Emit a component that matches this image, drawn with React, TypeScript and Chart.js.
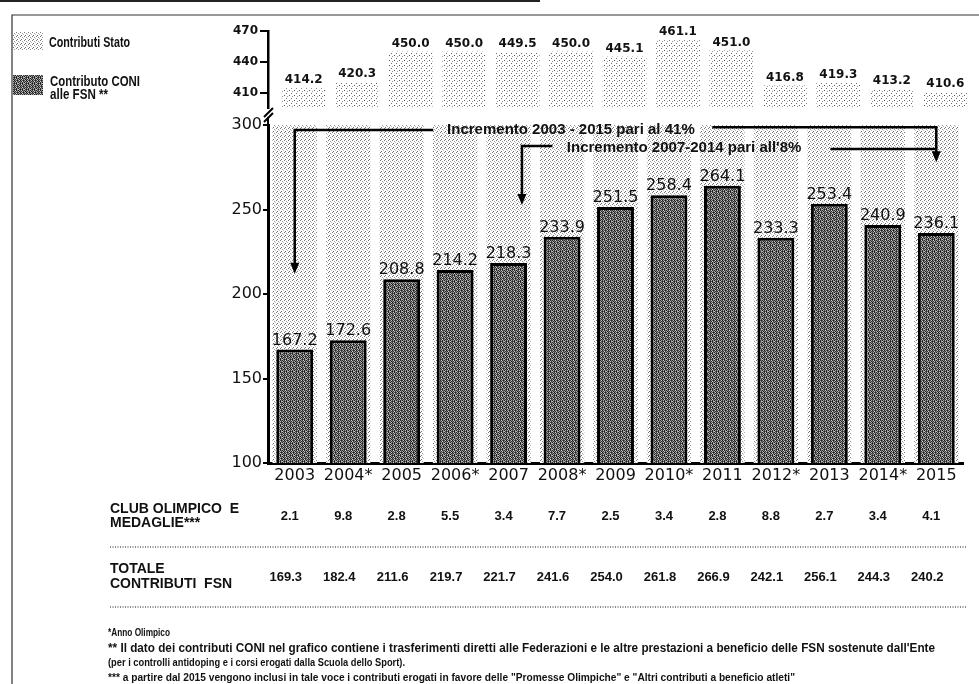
import React, { useEffect, useRef } from 'react';
import { Chart, registerables } from 'chart.js';

Chart.register(...registerables);

// ---------------- data ----------------
const years = ['2003', '2004*', '2005', '2006*', '2007', '2008*', '2009', '2010*', '2011', '2012*', '2013', '2014*', '2015'];
const statoValues = [414.2, 420.3, 450.0, 450.0, 449.5, 450.0, 445.1, 461.1, 451.0, 416.8, 419.3, 413.2, 410.6];
const coniValues = [167.2, 172.6, 208.8, 214.2, 218.3, 233.9, 251.5, 258.4, 264.1, 233.3, 253.4, 240.9, 236.1];
const clubValues = [2.1, 9.8, 2.8, 5.5, 3.4, 7.7, 2.5, 3.4, 2.8, 8.8, 2.7, 3.4, 4.1];
const totalValues = [169.3, 182.4, 211.6, 219.7, 221.7, 241.6, 254.0, 261.8, 266.9, 242.1, 256.1, 244.3, 240.2];
const topTicks = [410, 440, 470];
const bottomTicks = [100, 150, 200, 250, 300];
const legendStato = 'Contributi Stato';
const legendConi = ['Contributo CONI', 'alle FSN **'];
const clubLabel = ['CLUB OLIMPICO  E', 'MEDAGLIE***'];
const totalLabel = ['TOTALE', 'CONTRIBUTI  FSN'];
const note41 = 'Incremento 2003 - 2015 pari al 41%';
const note8 = "Incremento 2007-2014 pari all'8%";
const footnotes = [
  '*Anno Olimpico',
  "** Il dato dei contributi CONI nel grafico contiene i trasferimenti diretti alle Federazioni e le altre prestazioni a beneficio delle FSN sostenute dall'Ente",
  '(per i controlli antidoping e i corsi erogati dalla Scuola dello Sport).',
  '*** a partire dal 2015 vengono inclusi in tale voce i contributi erogati in favore delle "Promesse Olimpiche" e "Altri contributi a beneficio atleti"',
];

// ---------------- patterns ----------------
function tilePattern(ctx: CanvasRenderingContext2D, size: number, cells: number[]) {
  const c = document.createElement('canvas');
  c.width = size;
  c.height = size;
  const g = c.getContext('2d')!;
  for (let i = 0; i < size * size; i++) {
    const v = Math.max(0, Math.min(255, cells[i]));
    g.fillStyle = `rgb(${v},${v},${v})`;
    g.fillRect(i % size, Math.floor(i / size), 1, 1);
  }
  return ctx.createPattern(c, 'repeat')!;
}

const W = 255;
const coniTile = [
  35, 145, 60, 205, 45, 115,
  175, 25, 125, 55, 185, 65,
  75, 195, 20, 155, 85, 35,
  135, 55, 105, 35, 215, 65,
  25, 165, 65, 175, 45, 135,
  195, 75, 35, 95, 25, 175,
];
const statoLowTile = [
  120, W, W, W,
  W, W, 150, W,
  W, W, W, 190,
  W, 110, W, W,
];
const statoTopTile = [
  90, W, W, W, W,
  W, W, W, 150, W,
  W, W, W, W, W,
  W, W, 110, W, W,
  W, W, W, W, W,
];

const SHIFT_TOP = 9;

export default function App() {
  const topRef = useRef<HTMLCanvasElement>(null);
  const botRef = useRef<HTMLCanvasElement>(null);

  useEffect(() => {
    const botCanvas = botRef.current!;
    const topCanvas = topRef.current!;
    const bctx = botCanvas.getContext('2d')!;
    const coniPat = tilePattern(bctx, 6, coniTile);
    const statoLowPat = tilePattern(bctx, 4, statoLowTile);
    const statoTopPat = tilePattern(bctx, 5, statoTopTile);

    const arrowHead = (ctx: CanvasRenderingContext2D, x: number, y: number) => {
      ctx.beginPath();
      ctx.moveTo(x, y);
      ctx.lineTo(x - 4.5, y - 11);
      ctx.lineTo(x + 4.5, y - 11);
      ctx.closePath();
      ctx.fill();
    };

    const bottomDecor = {
      id: 'bottomDecor',
      afterDatasetsDraw(chart: any) {
        const ctx: CanvasRenderingContext2D = chart.ctx;
        const meta = chart.getDatasetMeta(1);
        ctx.save();
        ctx.font = '16px "DejaVu Sans"';
        ctx.fillStyle = '#111';
        ctx.textAlign = 'center';
        ctx.textBaseline = 'bottom';
        meta.data.forEach((bar: any, i: number) => {
          ctx.fillText(coniValues[i].toFixed(1), bar.x, bar.y - 1);
        });
        ctx.restore();
      },
      afterDraw(chart: any) {
        const ctx: CanvasRenderingContext2D = chart.ctx;
        const xs = chart.scales.x;
        const ys = chart.scales.y;
        const step = xs.getPixelForValue(1) - xs.getPixelForValue(0);
        const px = (i: number) => xs.getPixelForValue(0) + i * step;
        const py = (v: number) => ys.getPixelForValue(v);
        ctx.save();

        // page frame
        ctx.strokeStyle = '#333';
        ctx.lineWidth = 1.2;
        ctx.beginPath();
        ctx.moveTo(12, 684);
        ctx.lineTo(12, 15);
        ctx.lineTo(979, 15);
        ctx.stroke();
        ctx.lineWidth = 2;
        ctx.strokeStyle = '#222';
        ctx.beginPath();
        ctx.moveTo(0, 1);
        ctx.lineTo(540, 1);
        ctx.stroke();

        // axis break mark
        ctx.strokeStyle = '#000';
        ctx.lineWidth = 2;
        const ax = chart.chartArea.left;
        const at = chart.chartArea.top;
        ctx.beginPath();
        ctx.moveTo(ax - 4, at - 8);
        ctx.lineTo(ax + 5, at - 17);
        ctx.moveTo(ax - 4, at - 3);
        ctx.lineTo(ax + 5, at - 12);
        ctx.stroke();
        ctx.beginPath();
        ctx.moveTo(ax, at - 8);
        ctx.lineTo(ax, at);
        ctx.stroke();

        // annotations
        ctx.strokeStyle = '#000';
        ctx.fillStyle = '#000';
        ctx.lineWidth = 2.5;
        // 41%
        ctx.beginPath();
        ctx.moveTo(px(0), py(212) - 10);
        ctx.lineTo(px(0), py(297));
        ctx.lineTo(px(2.59), py(297));
        ctx.moveTo(px(7.81), py(298.6));
        ctx.lineTo(px(12), py(298.6));
        ctx.lineTo(px(12), py(278) - 10);
        ctx.stroke();
        arrowHead(ctx, px(0), py(212));
        arrowHead(ctx, px(12), py(278));
        // 8%
        ctx.beginPath();
        ctx.moveTo(px(4.25), py(252.7) - 10);
        ctx.lineTo(px(4.25), py(287.6));
        ctx.lineTo(px(4.82), py(287.6));
        ctx.moveTo(px(10.02), py(285.8));
        ctx.lineTo(px(12), py(285.8));
        ctx.stroke();
        arrowHead(ctx, px(4.25), py(252.7));

        ctx.font = 'bold 15px "Liberation Sans"';
        ctx.textAlign = 'left';
        ctx.textBaseline = 'middle';
        ctx.fillStyle = '#111';
        ctx.fillText(note41, px(2.85), py(297), 251);
        ctx.fillText(note8, px(5.09), py(286.7), 235);

        // legend
        ctx.fillStyle = statoLowPat;
        ctx.fillRect(13, 32, 30, 18);
        ctx.fillStyle = coniPat;
        ctx.fillRect(13, 75, 30, 20);
        ctx.fillStyle = '#111';
        ctx.textBaseline = 'alphabetic';
        ctx.font = 'bold 15px "Liberation Sans"';
        ctx.fillText(legendStato, 49, 47, 81);
        ctx.fillText(legendConi[0], 50, 86, 90);
        ctx.fillText(legendConi[1], 50, 99, 58);

        // table rows
        ctx.font = 'bold 14px "Liberation Sans"';
        ctx.fillText(clubLabel[0], 110, 513, 137);
        ctx.fillText(clubLabel[1], 110, 527, 103);
        ctx.fillText(totalLabel[0], 110, 573, 58);
        ctx.fillText(totalLabel[1], 110, 588, 128);
        ctx.font = 'bold 13px "Liberation Sans"';
        ctx.textAlign = 'center';
        clubValues.forEach((v, i) => ctx.fillText(v.toFixed(1), px(i) - 5, 520));
        totalValues.forEach((v, i) => ctx.fillText(v.toFixed(1), px(i) - 9, 581));

        // separators
        ctx.strokeStyle = '#8a8a8a';
        ctx.lineWidth = 2;
        ctx.setLineDash([1, 1.5]);
        ctx.beginPath();
        ctx.moveTo(110, 547);
        ctx.lineTo(966, 547);
        ctx.moveTo(110, 607);
        ctx.lineTo(966, 607);
        ctx.stroke();
        ctx.setLineDash([]);

        // footnotes
        ctx.textAlign = 'left';
        ctx.fillStyle = '#111';
        ctx.font = 'bold 11px "Liberation Sans"';
        ctx.fillText(footnotes[0], 108, 636, 62);
        ctx.fillText(footnotes[2], 108, 666, 297);
        ctx.fillText(footnotes[3], 108, 681, 687);
        ctx.font = 'bold 12px "Liberation Sans"';
        ctx.fillText(footnotes[1], 108, 652, 827);
        ctx.restore();
      },
    };

    const bottom = new Chart(botCanvas, {
      type: 'bar',
      data: {
        labels: years,
        datasets: [
          {
            label: 'Contributi Stato',
            data: statoValues,
            backgroundColor: statoLowPat as any,
            borderWidth: 0,
            barPercentage: 0.83,
            categoryPercentage: 1,
            grouped: false,
            order: 2,
          },
          {
            label: 'Contributo CONI alle FSN **',
            data: coniValues,
            backgroundColor: coniPat as any,
            borderColor: '#000',
            borderWidth: 3,
            barPercentage: 0.69,
            categoryPercentage: 1,
            grouped: false,
            order: 1,
          },
        ],
      },
      options: {
        responsive: false,
        animation: false,
        layout: { padding: { left: 200, right: 16, top: 125, bottom: 197 } },
        plugins: { legend: { display: false }, tooltip: { enabled: false }, title: { display: false } },
        scales: {
          x: {
            grid: { display: false },
            border: { display: true, color: '#000', width: 3 },
            ticks: { font: { family: 'DejaVu Sans', size: 16 }, color: '#111', padding: -5, maxRotation: 0, autoSkip: false },
            afterFit: (s: any) => { s.height = 24; },
          },
          y: {
            min: 100,
            max: 300,
            afterBuildTicks: (s: any) => { s.ticks = bottomTicks.map((v) => ({ value: v })); },
            grid: { display: true, drawOnChartArea: false, drawTicks: true, tickLength: 5, color: '#000', lineWidth: 2 },
            border: { display: true, color: '#000', width: 3 },
            ticks: { font: { family: 'DejaVu Sans', size: 16 }, color: '#111', padding: 1 },
            afterFit: (s: any) => { s.width = 68; },
          },
        },
      },
      plugins: [bottomDecor],
    });

    const topDecor = {
      id: 'topDecor',
      beforeDatasetsDraw(chart: any) {
        chart.ctx.save();
        chart.ctx.translate(SHIFT_TOP, 0);
      },
      afterDatasetsDraw(chart: any) {
        const ctx: CanvasRenderingContext2D = chart.ctx;
        ctx.restore();
        const meta = chart.getDatasetMeta(0);
        ctx.save();
        ctx.font = 'bold 12px "DejaVu Sans"';
        ctx.fillStyle = '#111';
        ctx.textAlign = 'center';
        ctx.textBaseline = 'bottom';
        meta.data.forEach((bar: any, i: number) => {
          ctx.fillText(statoValues[i].toFixed(1), bar.x + SHIFT_TOP, bar.y - 2);
        });
        ctx.restore();
      },
    };

    const top = new Chart(topCanvas, {
      type: 'bar',
      data: {
        labels: years,
        datasets: [
          {
            label: 'Contributi Stato',
            data: statoValues,
            backgroundColor: statoTopPat as any,
            borderWidth: 0,
            barPercentage: 0.82,
            categoryPercentage: 1,
          },
        ],
      },
      options: {
        responsive: false,
        animation: false,
        layout: { padding: { left: 200, right: 16, top: 31, bottom: 22 } },
        plugins: { legend: { display: false }, tooltip: { enabled: false }, title: { display: false } },
        scales: {
          x: { display: false },
          y: {
            min: 395,
            max: 470,
            afterBuildTicks: (s: any) => { s.ticks = topTicks.map((v) => ({ value: v })); },
            grid: { display: true, drawOnChartArea: false, drawTicks: true, tickLength: 8, color: '#000', lineWidth: 2 },
            border: { display: true, color: '#000', width: 2.5 },
            ticks: { font: { family: 'DejaVu Sans', size: 12, weight: 'bold' }, color: '#111', padding: 2 },
            afterFit: (s: any) => { s.width = 68; },
          },
        },
      },
      plugins: [topDecor],
    });

    return () => {
      bottom.destroy();
      top.destroy();
    };
  }, []);

  return (
    <div style={{ position: 'absolute', left: 0, top: 0, width: 979, height: 684, background: '#fff', overflow: 'hidden' }}>
      <canvas ref={botRef} width={979} height={684} style={{ position: 'absolute', left: 0, top: 0, width: 979, height: 684 }} />
      <canvas ref={topRef} width={979} height={130} style={{ position: 'absolute', left: 0, top: 0, width: 979, height: 130 }} />
    </div>
  );
}
